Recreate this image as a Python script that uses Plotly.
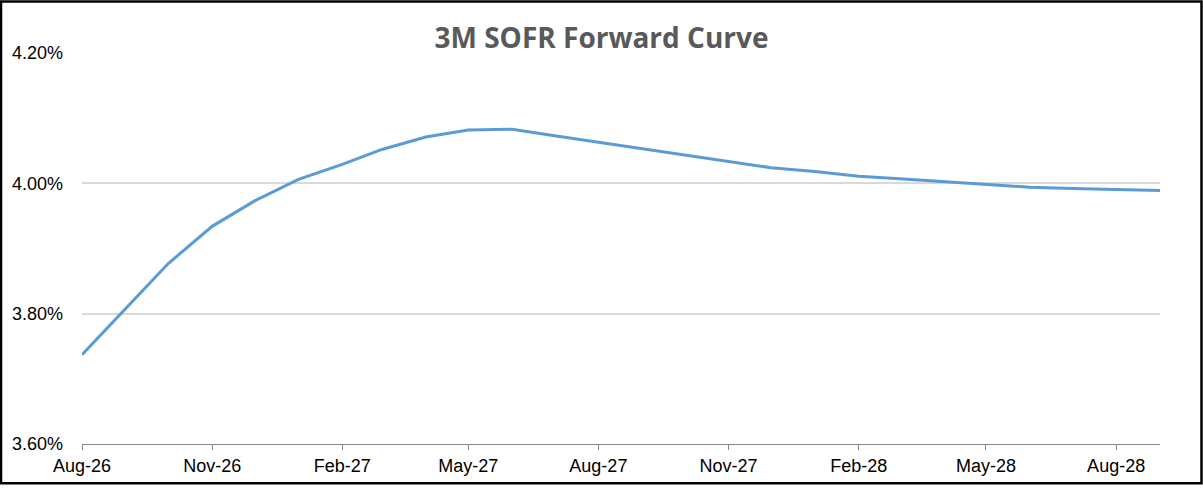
import plotly.graph_objects as go

months = ["2026-08-01", "2026-09-01", "2026-10-01", "2026-11-01", "2026-12-01",
          "2027-01-01", "2027-02-01", "2027-03-01", "2027-04-01", "2027-05-01",
          "2027-06-01", "2027-07-01", "2027-08-01", "2027-09-01", "2027-10-01",
          "2027-11-01", "2027-12-01", "2028-01-01", "2028-02-01", "2028-03-01",
          "2028-04-01", "2028-05-01", "2028-06-01", "2028-07-01", "2028-08-01",
          "2028-09-01"]
sofr_3m = [3.737, 3.809, 3.877, 3.934, 3.973,
           4.006, 4.029, 4.052, 4.071, 4.082,
           4.083, 4.073, 4.063, 4.053, 4.043,
           4.034, 4.024, 4.018, 4.011, 4.007,
           4.003, 3.998, 3.994, 3.992, 3.991,
           3.989]
y_ticks = [3.60, 3.80, 4.00, 4.20]
y_tick_labels = ["3.60%", "3.80%", "4.00%", "4.20%"]
title_text = "3M SOFR Forward Curve"

W, H = 1203, 488
ml, mr, mt, mb = 82, 43, 53, 41
pw, ph = W - ml - mr, H - mt - mb

fig = go.Figure()
fig.add_trace(go.Scatter(
    x=months, y=sofr_3m, mode="lines",
    line=dict(color="#5B9BD5", width=3),
    hoverinfo="x+y", showlegend=False,
))

fig.update_layout(
    width=W, height=H,
    margin=dict(l=ml, r=mr, t=mt, b=mb),
    paper_bgcolor="white", plot_bgcolor="white",
    title=dict(text="<b>" + title_text + "</b>", x=0.5, xanchor="center",
               y=1 - 38 / H, yanchor="middle",
               font=dict(family="Open Sans", size=28, color="#595959")),
    xaxis=dict(
        type="date", range=[months[0], months[-1]],
        tick0="2026-08-01", dtick="M3", tickformat="%b-%y",
        showgrid=False, showline=True, linecolor="#868686", linewidth=1,
        ticks="outside", ticklen=5, tickcolor="#868686",
        tickfont=dict(family="Liberation Sans, Arial", size=18, color="#000000"),
        zeroline=False,
    ),
    yaxis=dict(
        range=[3.60, 4.20], tickvals=y_ticks, ticktext=y_tick_labels,
        showgrid=True, gridcolor="#D9D9D9", gridwidth=1.5,
        showline=False, zeroline=False, ticks="",
        ticklabelstandoff=18,
        tickfont=dict(family="Liberation Sans, Arial", size=18, color="#000000"),
    ),
    shapes=[dict(
        type="rect", xref="paper", yref="paper",
        x0=(-ml + 1) / pw, x1=1 + (mr - 1.5) / pw,
        y0=(-mb + 1.5) / ph, y1=1 + (mt - 1) / ph,
        line=dict(color="black", width=2.5), fillcolor="rgba(0,0,0,0)", layer="above",
    )],
)

fig.write_html("out.html", config={"displayModeBar": False},
               post_script="document.body.style.margin='0px';document.body.style.overflow='hidden';")
